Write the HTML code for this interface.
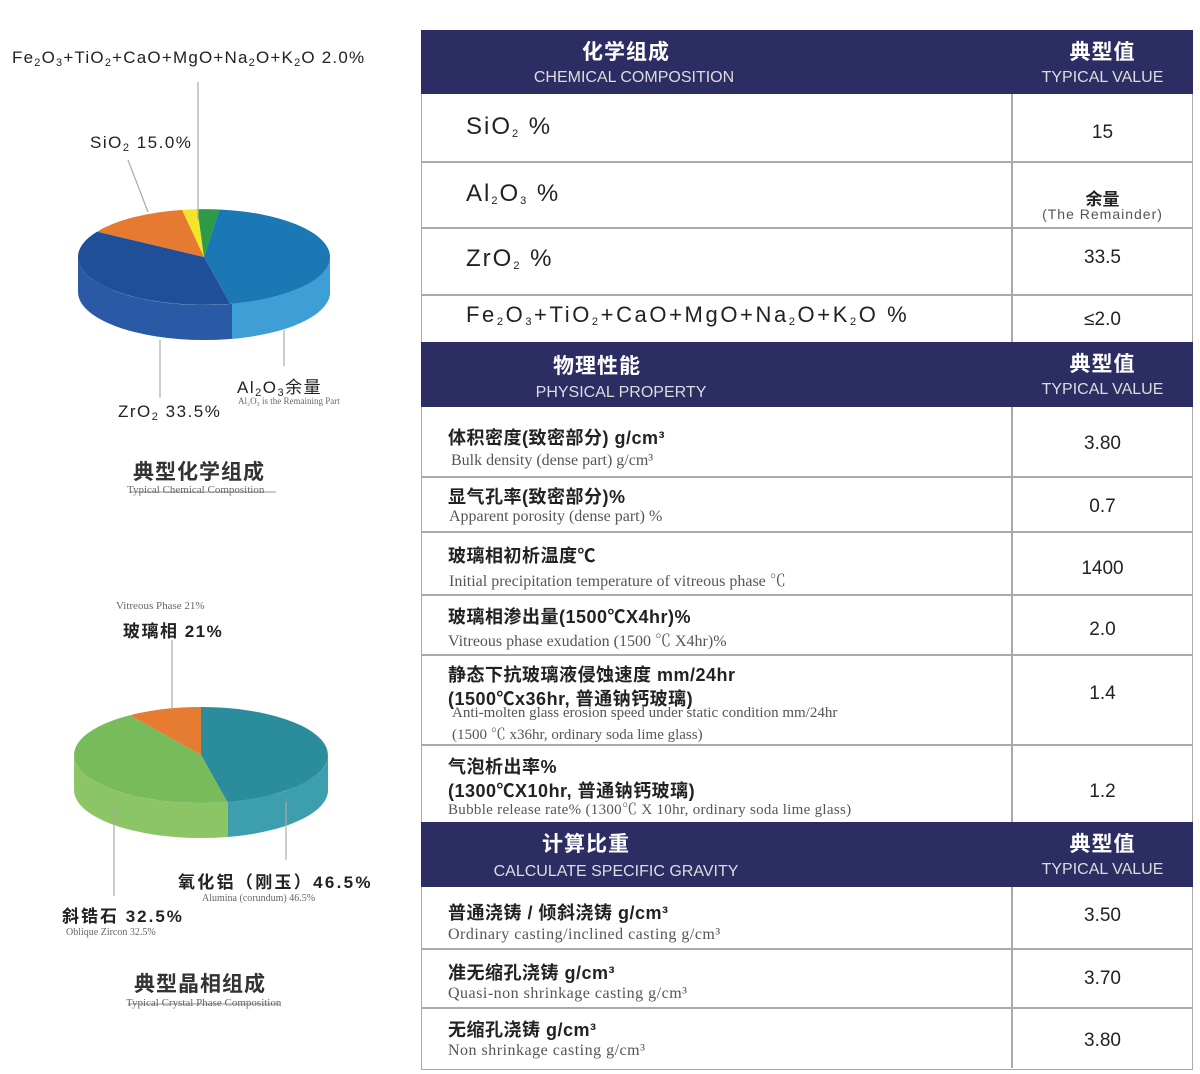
<!DOCTYPE html>
<html><head><meta charset="utf-8"><style>
body{margin:0;width:1200px;height:1074px;background:#fff;position:relative;overflow:hidden;font-family:"Liberation Sans","Noto Sans CJK SC",sans-serif;color:#222}
.a{position:absolute;white-space:nowrap}
.h{position:absolute;left:421px;width:772px;background:#2c2d63;color:#fff}
.h .c{position:absolute;text-align:center;font-weight:bold;font-size:21px;line-height:24px;letter-spacing:1px}
.h .e{position:absolute;text-align:center;font-size:16px;color:#ddd;line-height:18px}
.ln{position:absolute;left:421px;width:772px;height:2px;background:#aaa}
.zh{font-size:18px;font-weight:bold;color:#222;letter-spacing:0.5px}
.en{font-family:"Liberation Serif","Noto Serif CJK SC",serif;font-size:16px;color:#555}
.v{position:absolute;left:1012px;width:181px;text-align:center;font-size:19px}
.f{font-size:24px;color:#222;letter-spacing:2px}
.lb{letter-spacing:1.5px}
sub{font-size:11px;vertical-align:-3px}
</style></head><body>
<svg class="a" style="left:0;top:0" width="420" height="1074">
<defs>
<clipPath id="c1"><rect x="232" y="0" width="200" height="400"/></clipPath>
<clipPath id="c2"><rect x="228" y="600" width="200" height="300"/></clipPath>
</defs>
<path d="M78,257 A126,48 0 0 0 330,257 L330,292 A126,48 0 0 1 78,292 Z" fill="#2a5aa6"/>
<path d="M78,257 A126,48 0 0 0 330,257 L330,292 A126,48 0 0 1 78,292 Z" fill="#3d9fd6" clip-path="url(#c1)"/>
<g transform="translate(204,257) scale(1,0.38)">
<path d="M0,0 L15.4,-125.1 A126,126 0 0 1 26.2,123.2 Z" fill="#1b78b4"/>
<path d="M0,0 L26.2,123.2 A126,126 0 0 1 -106.9,-66.8 Z" fill="#1f4f98"/>
<path d="M0,0 L-106.9,-66.8 A126,126 0 0 1 -21.9,-124.1 Z" fill="#e57a30"/>
<path d="M0,0 L-21.9,-124.1 A126,126 0 0 1 -6.6,-125.8 Z" fill="#f2e52a"/>
<path d="M0,0 L-6.6,-125.8 A126,126 0 0 1 15.4,-125.1 Z" fill="#2d9a48"/>
</g>
<g stroke="#aaa" stroke-width="1.2" fill="none">
<line x1="198" y1="82" x2="198" y2="220"/>
<line x1="128" y1="160" x2="148" y2="212"/>
<line x1="160" y1="340" x2="160" y2="398"/>
<line x1="284" y1="330" x2="284" y2="366"/>
<line x1="130" y1="492" x2="276" y2="492"/>
</g>
<path d="M74,755 A127,48 0 0 0 328,755 L328,790 A127,48 0 0 1 74,790 Z" fill="#8cc566"/>
<path d="M74,755 A127,48 0 0 0 328,755 L328,790 A127,48 0 0 1 74,790 Z" fill="#3d9fae" clip-path="url(#c2)"/>
<g transform="translate(201,755) scale(1,0.378)">
<path d="M0,0 L0,-127 A127,127 0 0 1 26.4,124.2 Z" fill="#2b8c9c"/>
<path d="M0,0 L26.4,124.2 A127,127 0 0 1 -71,-105.3 Z" fill="#78bb5b"/>
<path d="M0,0 L-71,-105.3 A127,127 0 0 1 0,-127 Z" fill="#e67c31"/>
</g>
<g stroke="#aaa" stroke-width="1.2" fill="none">
<line x1="172" y1="640" x2="172" y2="710"/>
<line x1="114" y1="805" x2="114" y2="896"/>
<line x1="286" y1="802" x2="286" y2="860"/>
<line x1="128" y1="1004" x2="280" y2="1004"/>
</g>
</svg>
<div class="a lb" style="left:12px;top:48px;font-size:17px;letter-spacing:1.2px">Fe<sub>2</sub>O<sub>3</sub>+TiO<sub>2</sub>+CaO+MgO+Na<sub>2</sub>O+K<sub>2</sub>O 2.0%</div>
<div class="a lb" style="left:90px;top:133px;font-size:17px">SiO<sub>2</sub> 15.0%</div>
<div class="a lb" style="left:237px;top:373px;font-size:17px">Al<sub>2</sub>O<sub>3</sub>余量</div>
<div class="a" style="left:238px;top:396px;font-size:9px;font-family:'Liberation Serif',serif;color:#666">Al₂O₃ is the Remaining Part</div>
<div class="a lb" style="left:118px;top:402px;font-size:17px">ZrO<sub>2</sub> 33.5%</div>
<div class="a" style="left:133px;top:456px;font-size:21px;font-weight:bold;color:#333;letter-spacing:1px">典型化学组成</div>
<div class="a" style="left:127px;top:484px;font-size:11px;font-family:'Liberation Serif',serif;color:#666">Typical Chemical Composition</div>
<div class="a" style="left:116px;top:600px;font-size:11px;font-family:'Liberation Serif',serif;color:#666">Vitreous Phase 21%</div>
<div class="a lb" style="left:123px;top:617px;font-size:17px;font-weight:bold">玻璃相 21%</div>
<div class="a" style="left:178px;top:868px;font-size:17px;font-weight:bold;letter-spacing:2.3px">氧化铝（刚玉）46.5%</div>
<div class="a" style="left:202px;top:893px;font-size:10px;font-family:'Liberation Serif',serif;color:#666">Alumina (corundum) 46.5%</div>
<div class="a" style="left:62px;top:902px;font-size:17px;font-weight:bold;letter-spacing:2px">斜锆石 32.5%</div>
<div class="a" style="left:66px;top:927px;font-size:10px;font-family:'Liberation Serif',serif;color:#666">Oblique Zircon 32.5%</div>
<div class="a" style="left:134px;top:968px;font-size:21px;font-weight:bold;color:#333;letter-spacing:1px">典型晶相组成</div>
<div class="a" style="left:126px;top:997px;font-size:11px;font-family:'Liberation Serif',serif;color:#666">Typical Crystal Phase Composition</div>

<div class="a" style="left:421px;top:30px;width:770px;height:1038px;border:1px solid #aaa"></div>
<div class="a" style="left:1011px;top:30px;width:2px;height:1038px;background:#aaa"></div>

<div class="h" style="top:30px;height:64px"><div class="c" style="left:0;width:410px;top:11px">化学组成</div><div class="e" style="left:0;width:426px;top:39px">CHEMICAL COMPOSITION</div><div class="c" style="left:591px;width:181px;top:11px">典型值</div><div class="e" style="left:591px;width:181px;top:39px">TYPICAL VALUE</div></div>
<div class="a f" style="left:466px;top:113px">SiO<sub>2</sub> %</div><div class="v" style="top:122px">15</div>
<div class="ln" style="top:161px"></div>
<div class="a f" style="left:466px;top:180px">Al<sub>2</sub>O<sub>3</sub> %</div><div class="v" style="top:185px;font-size:17px;font-weight:bold">余量</div><div class="v" style="top:206px;font-size:14px;color:#555;letter-spacing:1px">(The Remainder)</div>
<div class="ln" style="top:227px"></div>
<div class="a f" style="left:466px;top:245px">ZrO<sub>2</sub> %</div><div class="v" style="top:247px">33.5</div>
<div class="ln" style="top:294px"></div>
<div class="a f" style="left:466px;top:302px;font-size:22px;letter-spacing:2.6px">Fe<sub>2</sub>O<sub>3</sub>+TiO<sub>2</sub>+CaO+MgO+Na<sub>2</sub>O+K<sub>2</sub>O %</div><div class="v" style="top:309px">≤2.0</div>

<div class="h" style="top:342px;height:65px"><div class="c" style="left:0;width:352px;top:13px">物理性能</div><div class="e" style="left:0;width:400px;top:42px">PHYSICAL PROPERTY</div><div class="c" style="left:591px;width:181px;top:11px">典型值</div><div class="e" style="left:591px;width:181px;top:39px">TYPICAL VALUE</div></div>
<div class="a zh" style="left:448px;top:424px">体积密度(致密部分) g/cm³</div><div class="a en" style="left:451px;top:452px">Bulk density (dense part) g/cm³</div><div class="v" style="top:433px">3.80</div>
<div class="ln" style="top:476px"></div>
<div class="a zh" style="left:448px;top:483px">显气孔率(致密部分)%</div><div class="a en" style="left:449px;top:508px">Apparent porosity (dense part) %</div><div class="v" style="top:496px">0.7</div>
<div class="ln" style="top:531px"></div>
<div class="a zh" style="left:448px;top:542px">玻璃相初析温度℃</div><div class="a en" style="left:449px;top:568px">Initial precipitation temperature of vitreous phase ℃</div><div class="v" style="top:558px">1400</div>
<div class="ln" style="top:594px"></div>
<div class="a zh" style="left:448px;top:603px">玻璃相渗出量(1500℃X4hr)%</div><div class="a en" style="left:448px;top:628px">Vitreous phase exudation (1500 ℃ X4hr)%</div><div class="v" style="top:619px">2.0</div>
<div class="ln" style="top:654px"></div>
<div class="a zh" style="left:448px;top:661px">静态下抗玻璃液侵蚀速度 mm/24hr</div><div class="a zh" style="left:448px;top:685px">(1500℃x36hr, 普通钠钙玻璃)</div><div class="a en" style="left:452px;top:705px;font-size:15px">Anti-molten glass erosion speed under static condition mm/24hr</div><div class="a en" style="left:452px;top:723px;font-size:15px">(1500 ℃ x36hr, ordinary soda lime glass)</div><div class="v" style="top:683px">1.4</div>
<div class="ln" style="top:744px"></div>
<div class="a zh" style="left:448px;top:753px">气泡析出率%</div><div class="a zh" style="left:448px;top:777px">(1300℃X10hr, 普通钠钙玻璃)</div><div class="a en" style="left:448px;top:798px;font-size:15px;letter-spacing:0.3px">Bubble release rate% (1300℃ X 10hr, ordinary soda lime glass)</div><div class="v" style="top:781px">1.2</div>

<div class="h" style="top:822px;height:65px"><div class="c" style="left:0;width:330px;top:11px">计算比重</div><div class="e" style="left:0;width:390px;top:41px">CALCULATE SPECIFIC GRAVITY</div><div class="c" style="left:591px;width:181px;top:11px">典型值</div><div class="e" style="left:591px;width:181px;top:39px">TYPICAL VALUE</div></div>
<div class="a zh" style="left:448px;top:899px">普通浇铸 / 倾斜浇铸 g/cm³</div><div class="a en" style="left:448px;top:926px;letter-spacing:0.5px">Ordinary casting/inclined casting g/cm³</div><div class="v" style="top:905px">3.50</div>
<div class="ln" style="top:948px"></div>
<div class="a zh" style="left:448px;top:959px">准无缩孔浇铸 g/cm³</div><div class="a en" style="left:448px;top:985px;letter-spacing:0.5px">Quasi-non shrinkage casting g/cm³</div><div class="v" style="top:968px">3.70</div>
<div class="ln" style="top:1007px"></div>
<div class="a zh" style="left:448px;top:1016px">无缩孔浇铸 g/cm³</div><div class="a en" style="left:448px;top:1042px;letter-spacing:0.5px">Non shrinkage casting g/cm³</div><div class="v" style="top:1030px">3.80</div>
</body></html>
